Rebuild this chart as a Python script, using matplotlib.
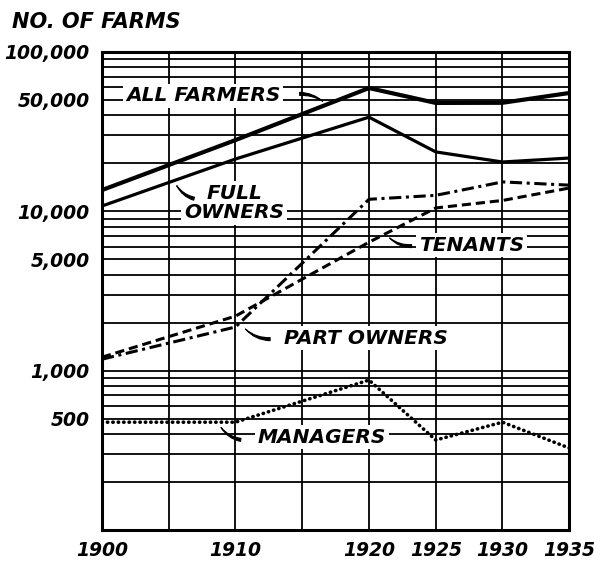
import matplotlib.pyplot as plt
from matplotlib.ticker import FixedLocator, NullFormatter

years = [1900, 1910, 1920, 1925, 1930, 1935]
all_farmers = [13600, 28000, 59400, 47900, 48000, 55300]
full_owners = [10800, 21300, 39000, 23600, 20400, 21600]
tenants = [1215, 2200, 6400, 10500, 11700, 14000]
part_owners = [1180, 1880, 11900, 12600, 15300, 14600]
managers = [475, 475, 873, 367, 475, 327]

x_ticks = [1900, 1910, 1920, 1925, 1930, 1935]
x_grid_extra = [1905, 1915]
y_ticks = [500, 1000, 5000, 10000, 50000, 100000]
y_tick_labels = ["500", "1,000", "5,000", "10,000", "50,000", "100,000"]

plt.rcParams["font.family"] = "DejaVu Sans"
tick_font = dict(fontweight="bold", fontstyle="italic", fontsize=13.5)
label_font = dict(fontweight="bold", fontstyle="italic", fontsize=14.5)

fig = plt.figure(figsize=(5.94, 5.72), dpi=100)
ax = fig.add_axes([0.1717, 0.0734, 0.7866, 0.8357])

ax.plot(years, all_farmers, color="black", lw=3.0, zorder=3)
ax.plot(years, full_owners, color="black", lw=2.3, zorder=3)
ax.plot(years, tenants, color="black", lw=2.2, ls=(0, (3.0, 1.6)), zorder=3)
ax.plot(years, part_owners, color="black", lw=2.2, ls=(0, (4.0, 1.5, 1.0, 1.5)), zorder=3)
ax.plot(years, managers, color="black", lw=2.6, ls=(0, (0.1, 1.4)),
        dash_capstyle="round", zorder=3)

ax.set_yscale("log")
ax.set_xlim(1900, 1935)
ax.set_ylim(100, 100000)

ax.xaxis.set_major_locator(FixedLocator(x_ticks))
ax.xaxis.set_minor_locator(FixedLocator(x_grid_extra))
ax.set_xticklabels([str(y) for y in x_ticks], **tick_font)
ax.yaxis.set_major_locator(FixedLocator(y_ticks))
ax.set_yticklabels(y_tick_labels, **tick_font)
ax.yaxis.set_minor_formatter(NullFormatter())

ax.grid(True, which="both", axis="both", color="black", lw=1.3)
ax.tick_params(which="both", length=0)
ax.tick_params(axis="y", pad=9)
ax.tick_params(axis="x", pad=8)
for s in ax.spines.values():
    s.set_linewidth(2.2)

fig.text(0.02, 0.9615, "NO. OF FARMS", ha="left", va="center",
         fontweight="bold", fontstyle="italic", fontsize=15)

box = dict(facecolor="white", edgecolor="none", pad=2)
# text, x, y, leader tip (on the line), leader tail (at the text), curvature
labels = [
    ("ALL FARMERS", 1907.6, 53000, (1916.7, 47900), (1914.6, 54500), -0.2),
    ("FULL\nOWNERS", 1909.9, 11300, (1905.5, 15000), (1907.1, 11900), -0.25),
    ("TENANTS", 1927.7, 6140, (1921.4, 7000), (1923.4, 6070), -0.25),
    ("PART OWNERS", 1919.8, 1600, (1910.6, 1880), (1912.8, 1580), -0.25),
    ("MANAGERS", 1916.5, 383, (1908.8, 455), (1910.6, 366), -0.25),
]
for text, tx, ty, tip, tail, rad in labels:
    ax.text(tx, ty, text, ha="center", va="center", linespacing=1.0,
            bbox=box, zorder=4, **label_font)
    ax.annotate("", xy=tip, xytext=tail, zorder=5,
                arrowprops=dict(arrowstyle="wedge,tail_width=0.22,shrink_factor=0.6",
                                color="black", lw=0.8,
                                connectionstyle=f"arc3,rad={rad}"))

fig.savefig("out.png", dpi=100)
